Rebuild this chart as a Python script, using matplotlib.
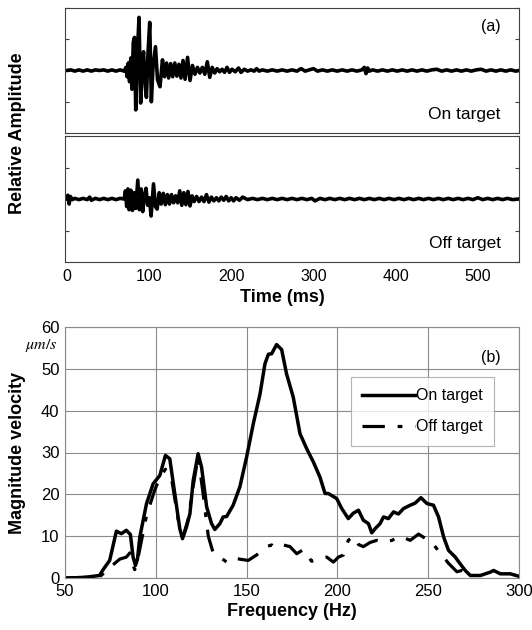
import matplotlib
matplotlib.use("Agg")
import matplotlib.pyplot as plt

plt.rcParams['font.family'] = ['Liberation Sans', 'DejaVu Sans']
plt.rcParams['mathtext.fontset'] = 'stix'

# ---------------- data: (a) time traces ----------------
on_time = [0, 5, 10, 15, 20, 25, 30, 35, 40, 45, 50, 55, 60, 65, 70,
           72, 73.5, 75, 76.5, 78, 79.5, 81, 82.5, 84, 86, 88, 90, 91.5, 93.5, 95.5, 97,
           99, 101, 103, 105, 108, 110.5, 113.5, 116.5, 119, 121.5, 124, 126.5, 129,
           131.5, 134, 136.5, 139, 141.5, 144, 147, 150, 153, 156, 159, 162, 165, 168,
           171, 174, 177, 180, 183, 186, 189, 192, 195, 198, 201, 205, 209, 212, 216,
           220, 224, 228, 231, 234, 238, 244, 250, 256, 262, 268, 274, 280, 285, 290,
           295, 300, 305, 311, 317, 323, 329, 335, 341, 347, 353, 359, 362, 364, 366,
           368, 372, 378, 384, 390, 396, 402, 408, 414, 420, 426, 432, 438, 444, 450,
           456, 462, 468, 474, 480, 486, 492, 498, 504, 510, 516, 522, 528, 534, 540,
           546, 550]
on_amp = [0, 0.01, -0.01, 0.01, -0.01, 0.01, -0.01, 0.01, 0.0, 0.01, -0.01, 0.01, -0.01, 0.01, -0.01,
          0.05, -0.10, 0.12, -0.18, 0.20, -0.30, 0.45, 0.53, -0.63, 0.30, 0.85, -0.52, 0.05, 0.30, -0.25, -0.43,
          0.30, 0.77, -0.50, 0.05, 0.38, -0.15, -0.26, 0.17, -0.10, 0.12, -0.12, 0.11, -0.10,
          0.12, -0.09, 0.10, -0.12, 0.16, -0.14, 0.21, -0.16, 0.08, -0.06, 0.05, -0.04, 0.05, -0.06,
          0.14, -0.11, 0.05, -0.04, 0.03, -0.02, 0.02, -0.03, 0.05, -0.03, 0.02, -0.02, 0.04, -0.03, 0.02,
          -0.01, 0.01, -0.01, 0.03, -0.01, 0.01, -0.01, 0.01, -0.01, 0.01, -0.01, 0.01, -0.01, 0.03, -0.01,
          0.01, 0.03, -0.01, 0.01, -0.01, 0.01, -0.01, 0.01, -0.01, 0.01, -0.01, 0.01, 0.05, -0.05, 0.04,
          -0.01, 0.01, -0.01, 0.01, -0.01, 0.01, -0.01, 0.01, -0.01, 0.01, -0.01, 0.01, -0.01, 0.01, 0.02,
          -0.01, 0.01, -0.01, 0.01, -0.01, 0.01, -0.01, 0.01, 0.02, -0.01, 0.01, -0.01, 0.01, -0.01, 0.01,
          -0.01, 0.0]

off_time = [0, 1.5, 3, 4.5, 7, 10, 15, 20, 25, 28, 30, 35, 40, 45, 50, 55, 60, 65, 70,
            71.5, 73, 74.5, 76, 78, 80, 82, 84, 86.5, 88.5, 90.5, 92.5, 94.5, 96.5, 98.5,
            100.5, 102.7, 105.6, 108, 110, 112.5, 115, 117.5, 120, 122.5, 125, 127.5, 130,
            132.5, 135, 137.5, 140, 142.5, 145, 147.5, 150, 152.5, 155, 158, 161, 164, 167,
            170, 173, 176, 179, 182, 185, 188, 191, 194, 197, 200, 203, 206, 210, 214,
            220, 226, 232, 238, 244, 250, 256, 262, 268, 274, 280, 286, 292, 298, 302,
            308, 314, 320, 326, 332, 338, 344, 350, 356, 362, 368, 374, 380, 386, 392,
            398, 404, 410, 416, 422, 428, 434, 440, 446, 452, 458, 464, 470, 476, 482,
            488, 494, 500, 506, 512, 518, 524, 530, 536, 542, 550]
off_amp = [0, 0.06, -0.08, 0.04, -0.01, 0.01, -0.01, 0.01, -0.01, 0.03, -0.02, 0.01, -0.01, 0.01, -0.01, 0.01, -0.01, 0.01, 0.0,
           0.13, -0.12, 0.16, -0.17, 0.14, -0.18, 0.10, -0.15, 0.30, -0.17, 0.16, -0.20, 0.05, 0.17, -0.10,
           0.02, -0.27, 0.24, -0.12, -0.16, 0.10, -0.08, 0.09, -0.09, 0.07, -0.08, 0.07, -0.06,
           0.05, -0.06, 0.13, -0.10, 0.10, -0.09, 0.12, -0.11, 0.05, -0.04, 0.04, -0.04, 0.03, -0.04,
           0.07, -0.05, 0.03, -0.03, 0.02, -0.03, 0.03, -0.02, 0.04, -0.03, 0.02, -0.03, 0.02, -0.02, 0.03,
           -0.01, 0.01, -0.01, 0.01, -0.01, 0.01, -0.01, 0.01, -0.01, 0.01, -0.01, 0.01, -0.01, 0.01, -0.03,
           0.01, -0.01, 0.01, -0.01, 0.01, -0.01, 0.01, -0.01, 0.01, -0.01, 0.01, -0.01, 0.01, -0.01, 0.01,
           -0.01, 0.01, -0.01, 0.01, -0.01, 0.01, -0.01, 0.01, -0.01, 0.01, -0.01, 0.01, -0.01, 0.01, -0.01,
           0.01, -0.01, 0.02, -0.01, 0.01, -0.01, 0.01, -0.01, 0.01, -0.01, 0.0]

time_ticks = [0, 100, 200, 300, 400, 500]

# ---------------- data: (b) spectra ----------------
on_freq = [50, 60, 69, 71, 74.6, 78.3, 81, 83.8, 86, 87.5, 88.8, 89.9, 91.2, 94.9, 98.5,
           102.2, 105.3, 107.7, 110.5, 113.2, 114.7, 116.9, 118.8, 120.6, 123.3, 125.2,
           128, 130.7, 132.5, 135.3, 137.1, 139, 142.6, 146.3, 150, 153.7, 157.4, 160.1,
           162, 163.8, 166.5, 169.3, 172, 175.7, 179.4, 183.1, 186.8, 190.4, 193.2, 195,
           199.6, 202.4, 206, 208.8, 211.6, 214.3, 217.1, 218.9, 220.8, 223.5, 225.4,
           228.1, 230.9, 233.6, 236.4, 240.1, 242.8, 246, 249.3, 252.9, 255.7, 258.5,
           261.2, 264.9, 267.6, 270.4, 273.2, 278.7, 284.2, 286, 289.7, 295.2, 300]
on_mag = [0, 0.1, 0.6, 2, 4.2, 11.2, 10.6, 11.4, 10.4, 5, 3, 4.5, 9.8, 17.8, 22.5,
          24.5, 29.3, 28.5, 20, 11.8, 9.4, 12.2, 15.4, 23.3, 29.7, 26.5,
          17, 13, 11.6, 13, 14.6, 14.7, 17.4, 21.8, 28.9, 36.9, 44, 51.2,
          53.5, 53.6, 55.8, 54.6, 48.8, 43.2, 34.5, 30.9, 27.7, 24.1, 20.2, 20.2,
          19, 16.6, 14.2, 15.5, 16.2, 13.8, 13, 10.8, 11.8, 13, 14.6,
          14.2, 15.8, 15.3, 16.6, 17.4, 17.9, 19.2, 17.8, 17.4, 14.6, 9.8,
          6.6, 5, 3.4, 1.8, 0.6, 0.6, 1.4, 1.8, 1, 1, 0.4]

off_freq = [50, 69, 71, 74.6, 77.4, 80.1, 83.8, 85.7, 87.5, 88.4, 90.3, 94.9, 99.4, 102.2,
            105.3, 108.6, 112.3, 115.1, 117.8, 120.6, 123.3, 126.1, 128.9, 131.6, 135.3,
            139, 142.6, 146.3, 150.9, 155.5, 161, 163.8, 165.6, 169.3, 173.9, 177.6, 181.3,
            185.8, 189.5, 194.1, 197.8, 200.6, 203.3, 206, 208.8, 211.6, 214.3, 218, 221.7,
            225.4, 230, 234.6, 240.1, 244.7, 248.3, 252.9, 256.6, 261.2, 265.8, 268.6, 271.3]
off_mag = [0, 0.3, 1, 2.5, 3.5, 4.5, 5, 6, 3, 2, 5, 15, 21, 24,
           26, 24, 14, 10, 14, 22, 29, 20, 10, 6, 5,
           3.8, 4.8, 4.5, 4.2, 5.5, 7.5, 7.9, 7.3, 8, 7.5, 5.8, 6.8,
           4, 4.5, 5, 3.8, 5, 5.5, 9, 10, 8, 7.5, 8.5, 9,
           8.5, 9, 10, 9, 10.5, 9.5, 8, 6, 3.5, 1.5, 1.8, 1]

freq_ticks = [50, 100, 150, 200, 250, 300]
mag_ticks = [0, 10, 20, 30, 40, 50, 60]

# ---------------- figure ----------------
W, H = 532, 630
fig = plt.figure(figsize=(W / 100, H / 100), dpi=100)

def box(x0, y0, x1, y1):
    return [x0 / W, 1 - y1 / H, (x1 - x0) / W, (y1 - y0) / H]

spine_col = '#404040'
ax1 = fig.add_axes(box(65, 8, 519, 133))
ax2 = fig.add_axes(box(65, 136, 519, 262))
for ax, t, a, lab in [(ax1, on_time, on_amp, 'On target'), (ax2, off_time, off_amp, 'Off target')]:
    ax.plot(t, a, color='black', lw=2.6, solid_joinstyle='round', solid_capstyle='round')
    ax.set_xlim(-2, 550)
    ax.set_ylim(-1, 1)
    ax.set_yticks([-1, -0.5, 0, 0.5, 1])
    ax.set_yticklabels([])
    ax.tick_params(axis='y', direction='in', length=3, left=True, right=True, color=spine_col)
    ax.tick_params(axis='x', direction='in', length=0, labelsize=11.5, pad=5)
    for s in ax.spines.values():
        s.set_color(spine_col)
        s.set_linewidth(0.8)
    ax.text(0.96, 0.15, lab, transform=ax.transAxes, ha='right', va='center', fontsize=12.5)
ax1.set_xticks(time_ticks)
ax1.set_xticklabels([])
ax2.set_xticks(time_ticks)
ax1.text(0.96, 0.85, '(a)', transform=ax1.transAxes, ha='right', va='center', fontsize=11.5)
fig.text(282 / W, 1 - 298 / H, 'Time (ms)', ha='center', va='center',
         fontsize=13, fontweight='bold')
fig.text(18 / W, 1 - 133 / H, 'Relative Amplitude', rotation=90, ha='center', va='center',
         fontsize=13, fontweight='bold')

ax3 = fig.add_axes(box(65, 327, 519, 578))
ax3.plot(on_freq, on_mag, color='black', lw=2.5, label='On target',
         solid_joinstyle='round')
ax3.plot(off_freq, off_mag, color='black', lw=2.3, dashes=(7, 4, 1.5, 4), label='Off target')
ax3.set_xlim(50, 300)
ax3.set_ylim(0, 60)
ax3.set_xticks(freq_ticks)
ax3.set_yticks(mag_ticks)
ax3.tick_params(length=0, labelsize=12, pad=4)
ax3.grid(True, color='#8a8a8a', lw=0.8)
ax3.set_axisbelow(True)
for s in ax3.spines.values():
    s.set_color('#8a8a8a')
    s.set_linewidth(0.8)
fig.text(292 / W, 1 - 612 / H, 'Frequency (Hz)', ha='center', va='center',
         fontsize=13, fontweight='bold')
fig.text(18 / W, 1 - 453 / H, 'Magnitude velocity', rotation=90, ha='center', va='center',
         fontsize=13, fontweight='bold')
ax3.text(0.96, 0.88, '(b)', transform=ax3.transAxes, ha='right', va='center', fontsize=11.5)
fig.text(58 / W, 1 - 345 / H, r'$\mu m/s$', ha='right', va='center', fontsize=11.5)
leg = ax3.legend(loc='upper right', bbox_to_anchor=(0.945, 0.80), fontsize=11.5,
                 frameon=True, fancybox=False, edgecolor='#a0a0a0', handlelength=3.3,
                 handletextpad=0.1, borderpad=0.7, labelspacing=1.0, borderaxespad=0)
leg.get_frame().set_linewidth(0.8)

fig.savefig('out.png', dpi=100)
